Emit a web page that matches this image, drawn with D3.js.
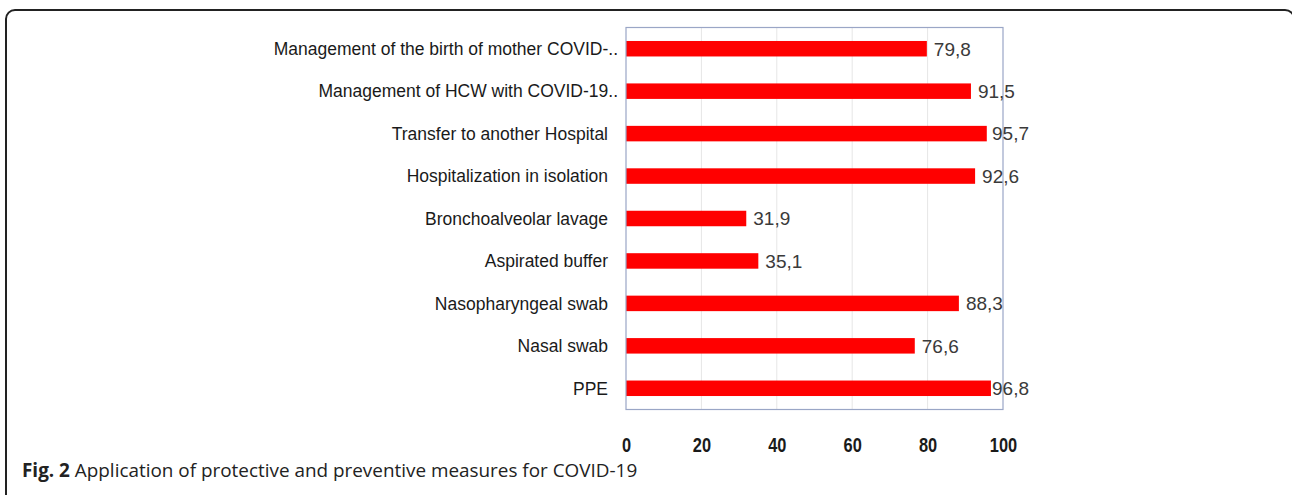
<!DOCTYPE html>
<html>
<head>
<meta charset="utf-8">
<script src="https://cdn.jsdelivr.net/npm/d3@7"></script>
<style>
  html, body { margin: 0; padding: 0; background: #fff; }
  svg { display: block; }
</style>
</head>
<body>
<svg id="chart" width="1292" height="495"></svg>
<script>
const categories = [
  "Management of the birth of mother COVID-..",
  "Management of HCW with COVID-19..",
  "Transfer to another Hospital",
  "Hospitalization in isolation",
  "Bronchoalveolar lavage",
  "Aspirated buffer",
  "Nasopharyngeal swab",
  "Nasal swab",
  "PPE"
];
const values = [79.8, 91.5, 95.7, 92.6, 31.9, 35.1, 88.3, 76.6, 96.8];
const tickValues = [0, 20, 40, 60, 80, 100];
const captionBold = "Fig. 2";
const captionText = " Application of protective and preventive measures for COVID-19";

const svg = d3.select("#chart");

// outer frame with rounded corners
svg.append("rect")
  .attr("x", 6).attr("y", 10)
  .attr("width", 1288).attr("height", 520)
  .attr("rx", 9).attr("ry", 9)
  .attr("fill", "none")
  .attr("stroke", "#222")
  .attr("stroke-width", 2);

const plot = { left: 626, right: 1003, top: 27.5, bottom: 409.5 };

const x = d3.scaleLinear().domain([0, 100]).range([plot.left, plot.right]);
const y = d3.scaleBand().domain(categories).range([plot.top, plot.bottom]).padding(0);
const barH = y.bandwidth() * 0.365;

// gridlines
svg.append("g").selectAll("line")
  .data(tickValues.filter(t => t > 0 && t < 100))
  .join("line")
  .attr("x1", d => x(d)).attr("x2", d => x(d))
  .attr("y1", plot.top).attr("y2", plot.bottom)
  .attr("stroke", "#e6e6e6").attr("stroke-width", 1);

// bars
svg.append("g").selectAll("rect")
  .data(values)
  .join("rect")
  .attr("x", x(0))
  .attr("y", (d, i) => y(categories[i]) + y.bandwidth() / 2 - barH / 2)
  .attr("width", d => x(d) - x(0))
  .attr("height", barH)
  .attr("fill", "#ff0000");

// plot border
svg.append("rect")
  .attr("x", plot.left).attr("y", plot.top)
  .attr("width", plot.right - plot.left).attr("height", plot.bottom - plot.top)
  .attr("fill", "none")
  .attr("stroke", "#9aa6c6").attr("stroke-width", 1.2);

// value labels
svg.append("g").selectAll("text")
  .data(values)
  .join("text")
  .attr("x", d => Math.min(x(d) + 7, 992))
  .attr("y", (d, i) => y(categories[i]) + y.bandwidth() / 2)
  .attr("dy", "0.36em")
  .attr("font-family", "'Liberation Sans', Arial, sans-serif")
  .attr("font-size", 19)
  .attr("fill", "#3a3a3a")
  .text(d => d3.format(".1f")(d).replace(".", ","));

// category labels (y axis)
const yAxis = d3.axisLeft(y).tickSize(0).tickPadding(0);
const gy = svg.append("g").attr("transform", `translate(${608},0)`).call(yAxis);
gy.select(".domain").remove();
gy.selectAll("text")
  .attr("font-family", "'Liberation Sans', Arial, sans-serif")
  .attr("font-size", 17.5)
  .attr("fill", "#1a1a1a")
  .attr("dx", d => d.endsWith("..") ? 10 : 0)
  .attr("dy", "0.36em");

// x axis tick labels
const xAxis = d3.axisBottom(x).tickValues(tickValues).tickSize(0).tickPadding(0).tickFormat(d3.format("d"));
const gx = svg.append("g").attr("transform", `translate(0,${452})`).call(xAxis);
gx.select(".domain").remove();
gx.selectAll("text")
  .attr("y", 0)
  .attr("dy", 0)
  .attr("transform", "scale(0.78,1)")
  .attr("font-family", "'Liberation Sans', Arial, sans-serif")
  .attr("font-weight", "bold")
  .attr("font-size", 21)
  .attr("fill", "#1a1a1a");

// caption
const cap = svg.append("text")
  .attr("x", 22).attr("y", 477)
  .attr("font-family", "'Open Sans', 'Noto Sans', sans-serif")
  .attr("font-size", 18.9)
  .attr("fill", "#222");
cap.append("tspan").attr("font-weight", "bold").text(captionBold);
cap.append("tspan").text(captionText);
</script>
</body>
</html>
